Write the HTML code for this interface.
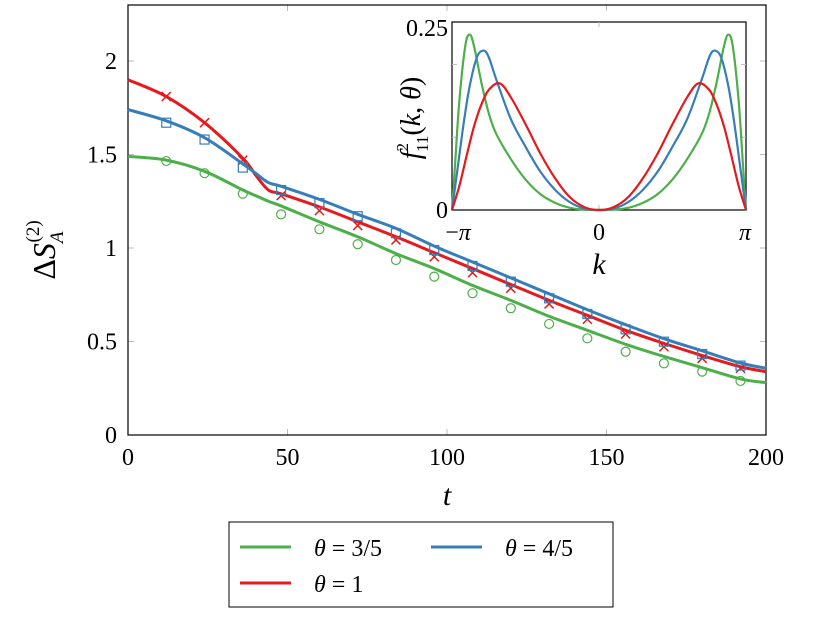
<!DOCTYPE html>
<html><head><meta charset="utf-8">
<style>
body{margin:0;background:#fff;}
svg text{font-family:"Liberation Serif",serif;fill:#000;}
</style></head>
<body>
<svg id="chart" width="815" height="635" viewBox="0 0 815 635" xmlns="http://www.w3.org/2000/svg">
<g id="main"></g>
<g id="inset"></g>
<g id="legend">
<rect x="229" y="522" width="384" height="85" fill="#fff" stroke="#000" stroke-width="1"/>
<g><line x1="240" y1="547" x2="291" y2="547" stroke="#4daf4a" stroke-width="3"/><text x="314" y="556" font-size="24" font-style="italic">θ <tspan font-style="normal">= 3/5</tspan></text></g>
<g><line x1="431" y1="547" x2="482" y2="547" stroke="#377eb8" stroke-width="3"/><text x="505" y="556" font-size="24" font-style="italic">θ <tspan font-style="normal">= 4/5</tspan></text></g>
<g><line x1="240" y1="583" x2="291" y2="583" stroke="#e41a1c" stroke-width="3"/><text x="314" y="592" font-size="24" font-style="italic">θ <tspan font-style="normal">= 1</tspan></text></g>
</g>
</svg>
<script>
// ---- main chart data ----
const lineT = [0,12,24,36,40,44,48,60,72,84,96,108,120,132,144,156,168,180,192,200];
const lineGreen = [1.49,1.47,1.41,1.31,1.28,1.25,1.225,1.14,1.06,0.97,0.89,0.80,0.72,0.635,0.56,0.485,0.42,0.36,0.30,0.28];
const lineBlue  = [1.74,1.68,1.59,1.45,1.40,1.35,1.33,1.26,1.18,1.105,1.01,0.925,0.84,0.755,0.67,0.59,0.515,0.45,0.385,0.357];
const lineRed   = [1.90,1.81,1.67,1.48,1.39,1.31,1.29,1.22,1.14,1.06,0.975,0.89,0.805,0.72,0.64,0.56,0.49,0.425,0.365,0.339];
const markT = [12,24,36,48,60,72,84,96,108,120,132,144,156,168,180,192];
const markGreen = [1.465,1.40,1.29,1.18,1.10,1.02,0.936,0.847,0.758,0.678,0.594,0.517,0.445,0.383,0.339,0.289];
const markBlue  = [1.67,1.58,1.43,1.31,1.24,1.17,1.079,0.989,0.904,0.820,0.731,0.647,0.565,0.499,0.433,0.371];
const markRed   = [1.81,1.67,1.47,1.28,1.20,1.12,1.043,0.953,0.868,0.785,0.701,0.619,0.540,0.472,0.410,0.357];
const xTicks = [0,50,100,150,200];
const yTicks = [0,0.5,1,1.5,2];
const yTickLabels = ["0","0.5","1","1.5","2"];
// ---- inset data (half-range, mirrored about k=0); k in units of pi ----
const insetKGreen = [0,0.1,0.2,0.3,0.4,0.5,0.6,0.7,0.75,0.8,0.85,0.88,0.91,0.95,0.98,1];
const insetGreen  = [0,0.0005,0.003,0.01,0.022,0.042,0.07,0.105,0.133,0.175,0.225,0.241,0.225,0.15,0.06,0];
const insetKBlue  = [0,0.1,0.2,0.3,0.4,0.5,0.6,0.7,0.75,0.785,0.83,0.88,0.92,0.96,1];
const insetBlue   = [0,0.002,0.011,0.028,0.053,0.087,0.125,0.18,0.21,0.219,0.21,0.17,0.12,0.06,0];
const insetKRed   = [0,0.1,0.2,0.3,0.4,0.5,0.6,0.676,0.75,0.8,0.85,0.9,0.95,1];
const insetRed    = [0,0.004,0.018,0.044,0.078,0.118,0.155,0.174,0.165,0.145,0.115,0.075,0.033,0];

const NS="http://www.w3.org/2000/svg";
function mk(tag,attrs,parent){const e=document.createElementNS(NS,tag);for(const k in attrs)e.setAttribute(k,attrs[k]);parent.appendChild(e);return e;}
function smooth(pts){let d="M"+pts[0][0]+","+pts[0][1];for(let i=0;i<pts.length-1;i++){const p0=pts[Math.max(0,i-1)],p1=pts[i],p2=pts[i+1],p3=pts[Math.min(pts.length-1,i+2)];const c1=[p1[0]+(p2[0]-p0[0])/6,p1[1]+(p2[1]-p0[1])/6],c2=[p2[0]-(p3[0]-p1[0])/6,p2[1]-(p3[1]-p1[1])/6];d+=" C"+c1[0]+","+c1[1]+" "+c2[0]+","+c2[1]+" "+p2[0]+","+p2[1];}return d;}

const main=document.getElementById('main');
const X0=128,X1=766,Y0=435,YTOP=5;
const sx=t=>X0+(t-0)/200*(X1-X0);
const sy=v=>Y0-v*187;
xTicks.forEach((t,i)=>{
  if(i>0&&i<xTicks.length-1){const a=mk('line',{x1:sx(t),x2:sx(t),y1:Y0,y2:Y0-6,stroke:'#bbb'},main);
  const b=mk('line',{x1:sx(t),x2:sx(t),y1:YTOP,y2:YTOP+6,stroke:'#bbb'},main);}
  const tx=mk('text',{x:sx(t),y:465,'font-size':24,'text-anchor':'middle'},main);tx.textContent=t;
  
});
yTicks.forEach((v,i)=>{
  if(i>0){const a=mk('line',{x1:X0,x2:X0+6,y1:sy(v),y2:sy(v),stroke:'#bbb'},main);
  const b=mk('line',{x1:X1,x2:X1-6,y1:sy(v),y2:sy(v),stroke:'#bbb'},main);}
  const tx=mk('text',{x:117,y:sy(v)+8,'font-size':24,'text-anchor':'end'},main);tx.textContent=yTickLabels[i];
  
});
const frame=mk('rect',{x:X0,y:YTOP,width:X1-X0,height:Y0-YTOP,fill:'none',stroke:'#000','stroke-width':1.2},main);

const xl=mk('text',{x:447,y:505,'font-size':30,'font-style':'italic','text-anchor':'middle'},main);xl.textContent='t';

const yl=mk('text',{transform:'translate(55,250) rotate(-90)','font-size':32,'text-anchor':'middle'},main);
yl.innerHTML='Δ<tspan font-style="italic">S</tspan><tspan font-size="19" font-style="italic" dy="8">A</tspan><tspan font-size="19" dx="-11" dy="-24">(2)</tspan>';


const series=[['green','#4daf4a',lineGreen,markGreen,'circle'],['red','#e41a1c',lineRed,markRed,'cross'],['blue','#377eb8',lineBlue,markBlue,'square']];
series.forEach(([nm,col,lv,mv,shape])=>{
  const p=mk('path',{d:smooth(lineT.map((t,i)=>[sx(t),sy(lv[i])])),fill:'none',stroke:col,'stroke-width':3},main);
  
  markT.forEach((t,i)=>{
    const x=sx(t),y=sy(mv[i]);let m;
    if(shape==='circle')m=mk('circle',{cx:x,cy:y,r:4.5,fill:'none',stroke:col,'stroke-width':1.2},main);
    else if(shape==='square')m=mk('rect',{x:x-4.5,y:y-4.5,width:9,height:9,fill:'none',stroke:col,'stroke-width':1.2},main);
    else m=mk('path',{d:`M${x-4.5},${y-4.5}L${x+4.5},${y+4.5}M${x-4.5},${y+4.5}L${x+4.5},${y-4.5}`,stroke:col,'stroke-width':1.5},main);
    
  });
});

// inset
const inset=document.getElementById('inset');
const IX0=452,IX1=746,IY0=210,IYT=22;
const ix=k=>(IX0+IX1)/2+k*(IX1-IX0)/2;
const iy=v=>IY0-v*728;
const bg=mk('rect',{x:IX0,y:IYT,width:IX1-IX0,height:IY0-IYT,fill:'#fff',stroke:'#000','stroke-width':1.2},inset);

[[0.1],[0.2]].forEach(([v])=>{const a=mk('line',{x1:IX0,x2:IX0+5,y1:iy(v),y2:iy(v),stroke:'#bbb'},inset);
const b=mk('line',{x1:IX1,x2:IX1-5,y1:iy(v),y2:iy(v),stroke:'#bbb'},inset);});
[IYT,IY0].forEach((yy,j)=>{const a=mk('line',{x1:ix(0),x2:ix(0),y1:yy,y2:yy+(j?-5:5),stroke:'#bbb'},inset);});
[[insetKGreen,insetGreen,'#4daf4a','green'],[insetKBlue,insetBlue,'#377eb8','blue'],[insetKRed,insetRed,'#e41a1c','red']].forEach(([ks,vs,col,nm])=>{
  const pts=[];for(let i=ks.length-1;i>=0;i--)pts.push([ix(-ks[i]),iy(vs[i])]);
  for(let i=1;i<ks.length;i++)pts.push([ix(ks[i]),iy(vs[i])]);
  const p=mk('path',{d:smooth(pts),fill:'none',stroke:col,'stroke-width':2.2},inset);
  
});
function itext(x,y,s,html,attrs,name){const t=mk('text',Object.assign({x:x,y:y,'font-size':s},attrs||{}),inset);t.innerHTML=html;return t;}
itext(448,36,24,'0.25',{'text-anchor':'end'},'inset-y-tick-label');
itext(448,218,24,'0',{'text-anchor':'end'},'inset-y-tick-label');
itext(458,240,24,'−<tspan font-style="italic">π</tspan>',{'text-anchor':'middle'},'inset-x-tick-label');
itext(ix(0),240,24,'0',{'text-anchor':'middle'},'inset-x-tick-label');
itext(745,240,24,'<tspan font-style="italic">π</tspan>',{'text-anchor':'middle'},'inset-x-tick-label');
itext(ix(0),274,30,'k',{'text-anchor':'middle','font-style':'italic'},'inset-x-axis-title');
itext(0,0,28,'<tspan font-style="italic">f</tspan><tspan font-size="17" dy="-12">2</tspan><tspan font-size="17" dx="-9" dy="20">11</tspan><tspan dy="-8">(</tspan><tspan font-style="italic">k</tspan>, <tspan font-style="italic">θ</tspan>)',{transform:'translate(420,118) rotate(-90)','text-anchor':'middle'},'inset-y-axis-title');
</script>
</body></html>
